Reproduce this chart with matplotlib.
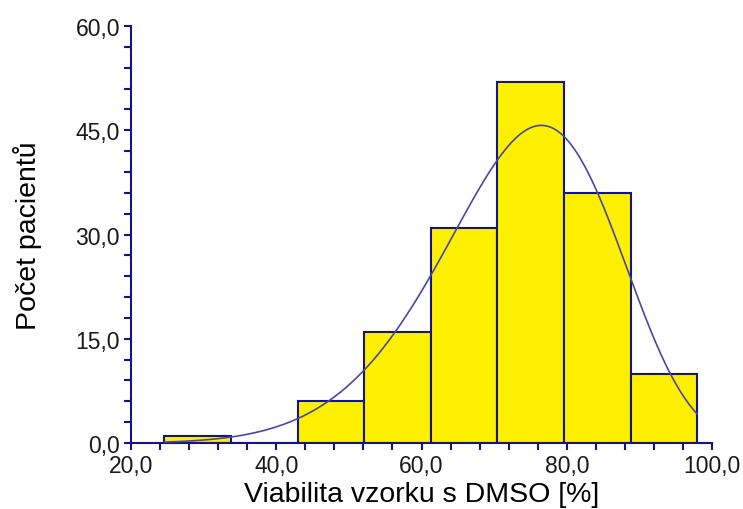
import numpy as np
import matplotlib
matplotlib.use("Agg")
import matplotlib.pyplot as plt
from matplotlib.ticker import MultipleLocator, FuncFormatter

# histogram bins
bin_edges = [24.6, 33.77, 42.94, 52.1, 61.3, 70.4, 79.6, 88.8, 97.95]
counts = [1, 0, 6, 16, 31, 52, 36, 10]

# fitted curve (Weibull), scaled to n * bin width
weib_shape = 6.9
weib_scale = 78.26

x_ticks = [20, 40, 60, 80, 100]
y_ticks = [0, 15, 30, 45, 60]

navy = "#14148a"
bar_yellow = "#fff000"
curve_col = "#4848a8"

plt.rcParams["font.family"] = ["Liberation Sans", "DejaVu Sans"]

fig = plt.figure(figsize=(7.43, 5.10), dpi=100)
ax = fig.add_axes([0.1763, 0.1294, 0.7820, 0.8176])

lefts = np.array(bin_edges[:-1])
widths = np.diff(bin_edges)
ax.bar(lefts, counts, width=widths, align="edge", color=bar_yellow,
       edgecolor=navy, linewidth=1.5, zorder=2)

n = sum(counts)
bw = widths.mean()
xs = np.linspace(bin_edges[0], bin_edges[-1], 400)
u = xs / weib_scale
pdf = (weib_shape / weib_scale) * u ** (weib_shape - 1) * np.exp(-u ** weib_shape)
ax.plot(xs, n * bw * pdf, color=curve_col, linewidth=1.2, zorder=3)

ax.set_xlim(20, 100)
ax.set_ylim(0, 60)
ax.set_xticks(x_ticks)
ax.set_yticks(y_ticks)
ax.xaxis.set_minor_locator(MultipleLocator(4))
ax.yaxis.set_minor_locator(MultipleLocator(3))
fmt = FuncFormatter(lambda v, p: f"{v:.1f}".replace(".", ","))
ax.xaxis.set_major_formatter(fmt)
ax.yaxis.set_major_formatter(fmt)

for s in ["top", "right"]:
    ax.spines[s].set_visible(False)
for s in ["left", "bottom"]:
    ax.spines[s].set_color(navy)
    ax.spines[s].set_linewidth(1.5)

ax.tick_params(which="both", direction="out", length=5, width=1.5,
               color=navy, labelsize=16.5, labelcolor="#1a1a1a", pad=3)

ax.set_xlabel("Viabilita vzorku s DMSO [%]", fontsize=20.5, labelpad=3)
ax.set_ylabel("Počet pacientů", fontsize=20.5, labelpad=24)

fig.savefig("out.png", dpi=100)
plt.close(fig)
